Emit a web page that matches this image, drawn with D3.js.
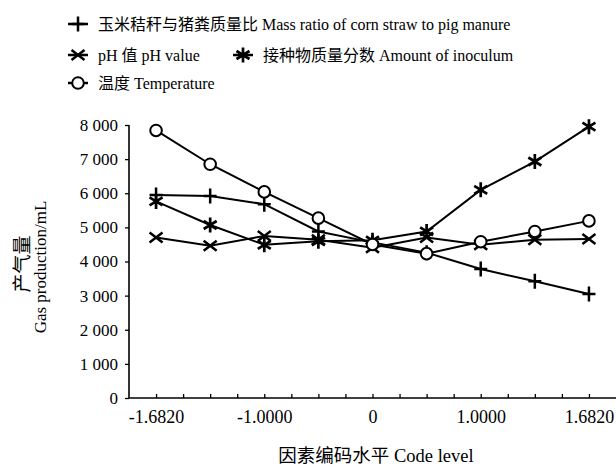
<!DOCTYPE html>
<html>
<head>
<meta charset="utf-8">
<script src="https://cdn.jsdelivr.net/npm/d3@7"></script>
<style>
  body { margin: 0; background: #fff; }
  text { font-family: "Liberation Serif", "Noto Sans CJK SC", serif; fill: #000; }
</style>
</head>
<body>
<script>
var w = 616;
var h = 467;

// code levels (evenly spaced on the chart)
var levelLabels = ["-1.6820", "", "-1.0000", "", "0", "", "1.0000", "", "1.6820"];
var yTicks = [0, 1000, 2000, 3000, 4000, 5000, 6000, 7000, 8000];

// gas production, mL
var massRatio = [5950, 5920, 5680, 4880, 4560, 4260, 3780, 3420, 3050];
var phValue = [4700, 4460, 4750, 4640, 4400, 4700, 4490, 4640, 4660];
var inoculum = [5760, 5070, 4490, 4590, 4620, 4880, 6100, 6930, 7950];
var temperature = [7840, 6850, 6040, 5270, 4500, 4230, 4580, 4880, 5190];

var series = [
  { name: "玉米秸秆与猪粪质量比 Mass ratio of corn straw to pig manure", values: massRatio, mark: "plus" },
  { name: "pH 值 pH value", values: phValue, mark: "cross" },
  { name: "接种物质量分数 Amount of inoculum", values: inoculum, mark: "star" },
  { name: "温度 Temperature", values: temperature, mark: "circle" }
];

var x0 = 129, x1 = 616, y0 = 398, y1 = 125;

var xScale = d3.scaleLinear().domain([-0.5, levelLabels.length - 0.5]).range([x0, x1]);
var yScale = d3.scaleLinear().domain([0, 8000]).range([y0, y1]);

var svg = d3.select("body").append("svg").attr("width", w).attr("height", h);

// marker shapes
function drawMark(g, type, cx, cy) {
  var s = 6.5;
  if (type == "plus") {
    g.append("path").attr("d", "M" + (cx - s) + "," + cy + "H" + (cx + s) + "M" + cx + "," + (cy - s - 1) + "V" + (cy + s + 1))
      .attr("stroke", "#000").attr("stroke-width", 2.5).attr("fill", "none");
  } else if (type == "cross") {
    g.append("path").attr("d", "M" + (cx - s) + "," + (cy - 5) + "L" + (cx + s) + "," + (cy + 5) + "M" + (cx - s) + "," + (cy + 5) + "L" + (cx + s) + "," + (cy - 5))
      .attr("stroke", "#000").attr("stroke-width", 2.5).attr("fill", "none");
  } else if (type == "star") {
    g.append("path").attr("d", "M" + (cx - s) + "," + (cy - 4) + "L" + (cx + s) + "," + (cy + 4) + "M" + (cx - s) + "," + (cy + 4) + "L" + (cx + s) + "," + (cy - 4) + "M" + cx + "," + (cy - s - 1) + "V" + (cy + s + 1))
      .attr("stroke", "#000").attr("stroke-width", 2.7).attr("fill", "none");
  } else {
    g.append("circle").attr("cx", cx).attr("cy", cy).attr("r", 5.8)
      .attr("stroke", "#000").attr("stroke-width", 2).attr("fill", "#fff");
  }
}

//Axes
var yAxis = d3.axisLeft(yScale).tickValues(yTicks).tickSize(4).tickPadding(7)
  .tickFormat(function (d) { return d3.format(",")(d).replace(",", " "); });
var yg = svg.append("g").attr("transform", "translate(" + x0 + ",0)").call(yAxis);
yg.select(".domain").attr("d", "M0," + y1 + "V" + y0).attr("stroke-width", 1.6);
yg.selectAll(".tick line").attr("stroke-width", 1.3);
yg.selectAll("text").attr("font-size", "17px").attr("fill", "#000");

var minor = d3.range(0, levelLabels.length - 0.75, 0.5);
var xAxis = d3.axisBottom(xScale).tickValues(minor).tickSize(-4).tickPadding(12)
  .tickFormat(function (d) { return Number.isInteger(d) ? levelLabels[d] : ""; });
var xg = svg.append("g").attr("transform", "translate(0," + y0 + ")").call(xAxis);
xg.select(".domain").attr("d", "M" + x0 + ",0H" + x1).attr("stroke-width", 1.6);
xg.selectAll(".tick line").attr("stroke-width", 1.3);
xg.selectAll("text").attr("font-size", "18px").attr("fill", "#000");

// axis titles
svg.append("text").attr("x", 376).attr("y", 462).attr("text-anchor", "middle")
  .attr("font-size", "18.5px").attr("fill", "#000").text("因素编码水平 Code level");
svg.append("text").attr("transform", "translate(29,264) rotate(-90)").attr("text-anchor", "middle")
  .attr("font-size", "19px").attr("fill", "#000").text("产气量");
svg.append("text").attr("transform", "translate(46,267) rotate(-90)").attr("text-anchor", "middle")
  .attr("font-size", "17px").attr("fill", "#000").text("Gas production/mL");

//Lines
var line = d3.line()
  .x(function (d, i) { return xScale(i); })
  .y(function (d) { return yScale(d); });

svg.selectAll(".series")
  .data(series)
  .enter()
  .append("path")
  .attr("d", function (d) { return line(d.values); })
  .attr("fill", "none")
  .attr("stroke", "#000")
  .attr("stroke-width", 2);

//Markers
series.forEach(function (s) {
  var g = svg.append("g");
  s.values.forEach(function (v, i) {
    drawMark(g, s.mark, xScale(i), yScale(v));
  });
});

//Legend
var legendPos = [
  { x: 68, y: 24 },
  { x: 68, y: 55 },
  { x: 233, y: 55 },
  { x: 68, y: 83 }
];
series.forEach(function (s, i) {
  var p = legendPos[i];
  var g = svg.append("g");
  g.append("line").attr("x1", p.x).attr("x2", p.x + 20).attr("y1", p.y).attr("y2", p.y)
    .attr("stroke", "#000").attr("stroke-width", 2.5);
  drawMark(g, s.mark, p.x + 10, p.y);
  g.append("text").attr("x", p.x + 30).attr("y", p.y + 6).attr("font-size", "16px").attr("fill", "#000").text(s.name);
});
</script>
</body>
</html>
